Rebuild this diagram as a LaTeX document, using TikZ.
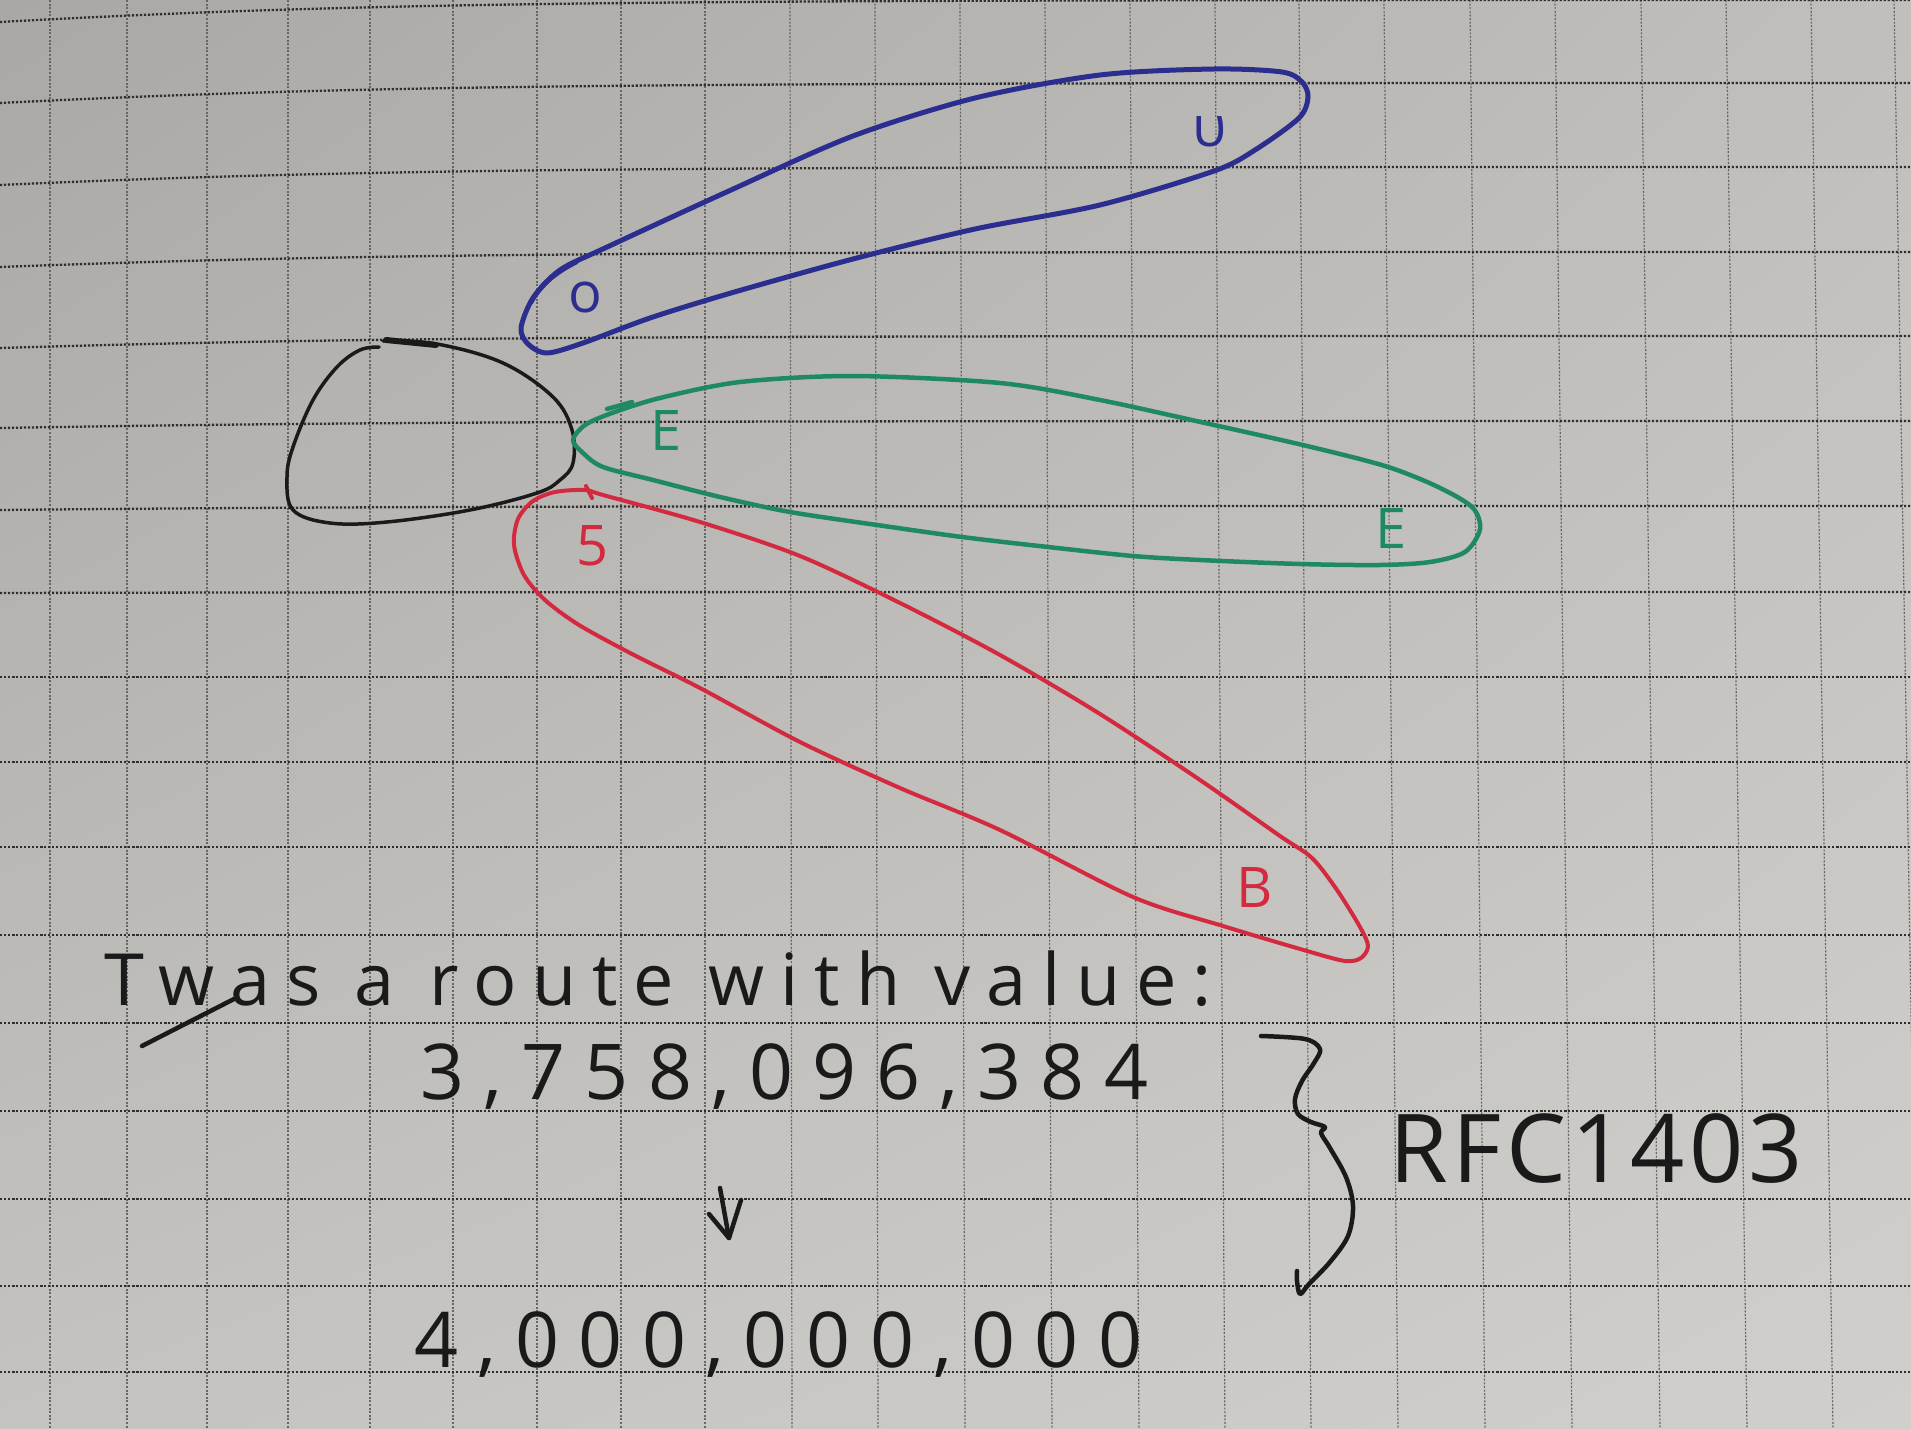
\documentclass[tikz,border=0pt]{standalone}
\usepackage{fontspec}
\setmainfont{Open Sans}
\usetikzlibrary{shadings}
\definecolor{penblue}{HTML}{2B2E8F}
\definecolor{pengreen}{HTML}{1F8A62}
\definecolor{penred}{HTML}{D42A3F}
\definecolor{penblack}{HTML}{1A1A1A}
\definecolor{gridh}{HTML}{2E2E2E}
\definecolor{gridv}{HTML}{666666}
\definecolor{paperUL}{RGB}{170,168,165}
\definecolor{paperUR}{RGB}{192,191,188}
\definecolor{paperLL}{RGB}{196,195,192}
\definecolor{paperLR}{RGB}{208,207,204}
\tikzset{
  ink/.style={line cap=round, line join=round},
  bluepen/.style={ink, draw=penblue, line width=5pt},
  greenpen/.style={ink, draw=pengreen, line width=4.5pt},
  redpen/.style={ink, draw=penred, line width=4pt},
  blackpen/.style={ink, draw=penblack, line width=3.5pt},
  gridvline/.style={draw=gridv, line width=1.2pt, dash pattern=on 2pt off 1.6pt},
  gridhline/.style={draw=gridh, line width=2.3pt, dash pattern=on 2.2pt off 1.8pt},
  hand/.style={text=penblack, inner sep=0pt},
  lbl/.style={inner sep=0pt, font=\fontsize{56pt}{60pt}\selectfont}
}
\begin{document}
\begin{tikzpicture}[x=1pt,y=-1pt]
\useasboundingbox (0,0) rectangle (1911,1429);
% paper
\shade[upper left=paperUL, upper right=paperUR, lower left=paperLL, lower right=paperLR]
  (0,0) rectangle (1911,1429);
% grid: vertical lines (slightly tilted on the right)
\foreach \x/\s in {50/0,127/0,207/0,288/0,370/0,453/0,537/0,621/0,705/0,790/2,875/3,960/5,1045/7,1130/9,1215/10,1299/12,1384/14,1470/15,1555/17,1641/19,1726/21,1811/22,1894/24}
  \draw[gridvline] (\x,0) -- ({\x+\s},1429);
% grid: horizontal lines (bent at the upper left)
\foreach \a/\b in {22/0,103/83,185/167,267/252,348/336,428/421,510/506,593/592,677/677,762/762,847/847,935/935,1023/1023,1111/1111,1199/1199,1286/1286,1372/1372}
  \draw[gridhline] (0,\a) .. controls (400,\b) and (700,\b) .. (1911,\b);

% central blob
\draw[blackpen] plot[smooth, tension=0.6] coordinates {(383,341) (437,344) (503,363) (553,397) (572,430) (573,463) (560,480) (537,493) (470,510) (387,522) (330,523) (293,510) (287,477) (293,447) (313,400) (337,367) (360,350) (379,347)};
\draw[ink, draw=penblack, line width=6pt] (386,340) -- (436,345);

% blue petal
\draw[bluepen] plot[smooth cycle, tension=0.5] coordinates {(521,328) (533,298) (560,270) (605,248) (731,190) (853,136) (975,98) (1100,75) (1214,69) (1282,72) (1302,82) (1308,97) (1299,118) (1255,150) (1214,171) (1100,205) (975,229) (853,259) (731,293) (650,318) (583,343) (547,353) (528,344)};
\draw[bluepen] (576,262) .. controls (556,272) and (540,285) .. (531,302);
\node[lbl, text=penblue] (bo) at (585,298) {o};
\node[lbl, text=penblue] (bu) at (1210,132) {υ};

% green petal
\draw[greenpen] plot[smooth cycle, tension=0.5] coordinates {(573,440) (585,425) (612,413) (660,398) (740,382) (853,376) (1000,383) (1100,400) (1214,425) (1307,446) (1385,466) (1436,486) (1472,507) (1480,529) (1465,552) (1430,562) (1380,565) (1300,564) (1200,560) (1133,556) (1048,547) (962,537) (877,525) (790,512) (720,497) (653,480) (603,467) (583,453)};
\draw[greenpen] (607,409) -- (632,402);
\node[lbl, text=pengreen] (ge1) at (666,431) {E};
\node[lbl, text=pengreen] (ge2) at (1391,529) {E};

% red petal
\draw[redpen] plot[smooth cycle, tension=0.5] coordinates {(585,490) (603,495) (700,522) (800,556) (900,603) (1000,655) (1100,714) (1200,780) (1280,836) (1312,858) (1337,890) (1360,927) (1368,946) (1361,958) (1345,961) (1307,951) (1223,926) (1133,897) (1000,830) (900,788) (800,742) (700,688) (634,655) (579,625) (545,600) (524,575) (514,545) (518,519) (533,501) (555,492)};
\draw[redpen] (586,486) -- (592,498);
\node[lbl, text=penred] (r5) at (593,546) {5};
\node[lbl, text=penred] (rb) at (1255,888) {B};

% text
\node[hand, anchor=base west, font=\fontsize{72pt}{80pt}\selectfont\addfontfeature{LetterSpace=22}] (line1) at (104,1005) {Twas a route with value:};
\draw[ink, draw=penblack, line width=4.5pt] (142,1046) -- (234,999);
\node[hand, anchor=base west, font=\fontsize{77pt}{80pt}\selectfont\addfontfeature{LetterSpace=25}] (num1) at (420,1099) {3,758,096,384};
\coordinate (atop) at (720,1188);
\coordinate (abot) at (729,1238);
\draw[ink, draw=penblack, line width=4.5pt] (atop) -- (abot);
\draw[ink, draw=penblack, line width=4.5pt] (709,1214) -- (abot) -- (741,1200);
\node[hand, anchor=base west, font=\fontsize{77pt}{80pt}\selectfont\addfontfeature{LetterSpace=25}] (num2) at (414,1367) {4,000,000,000};
% brace
\draw[ink, draw=penblack, line width=4.5pt] plot[smooth, tension=0.55] coordinates {(1261,1036) (1305,1039) (1320,1049) (1314,1063) (1302,1081) (1295,1099) (1298,1114) (1311,1122) (1325,1127) (1321,1133) (1330,1148) (1346,1177) (1353,1206) (1348,1236) (1330,1262) (1309,1284) (1300,1294) (1297,1281) (1297,1271)};
\node[hand, anchor=base west, font=\fontsize{95pt}{100pt}\selectfont\addfontfeature{LetterSpace=5}] (rfc) at (1389,1182) {RFC1403};
\end{tikzpicture}
\end{document}
